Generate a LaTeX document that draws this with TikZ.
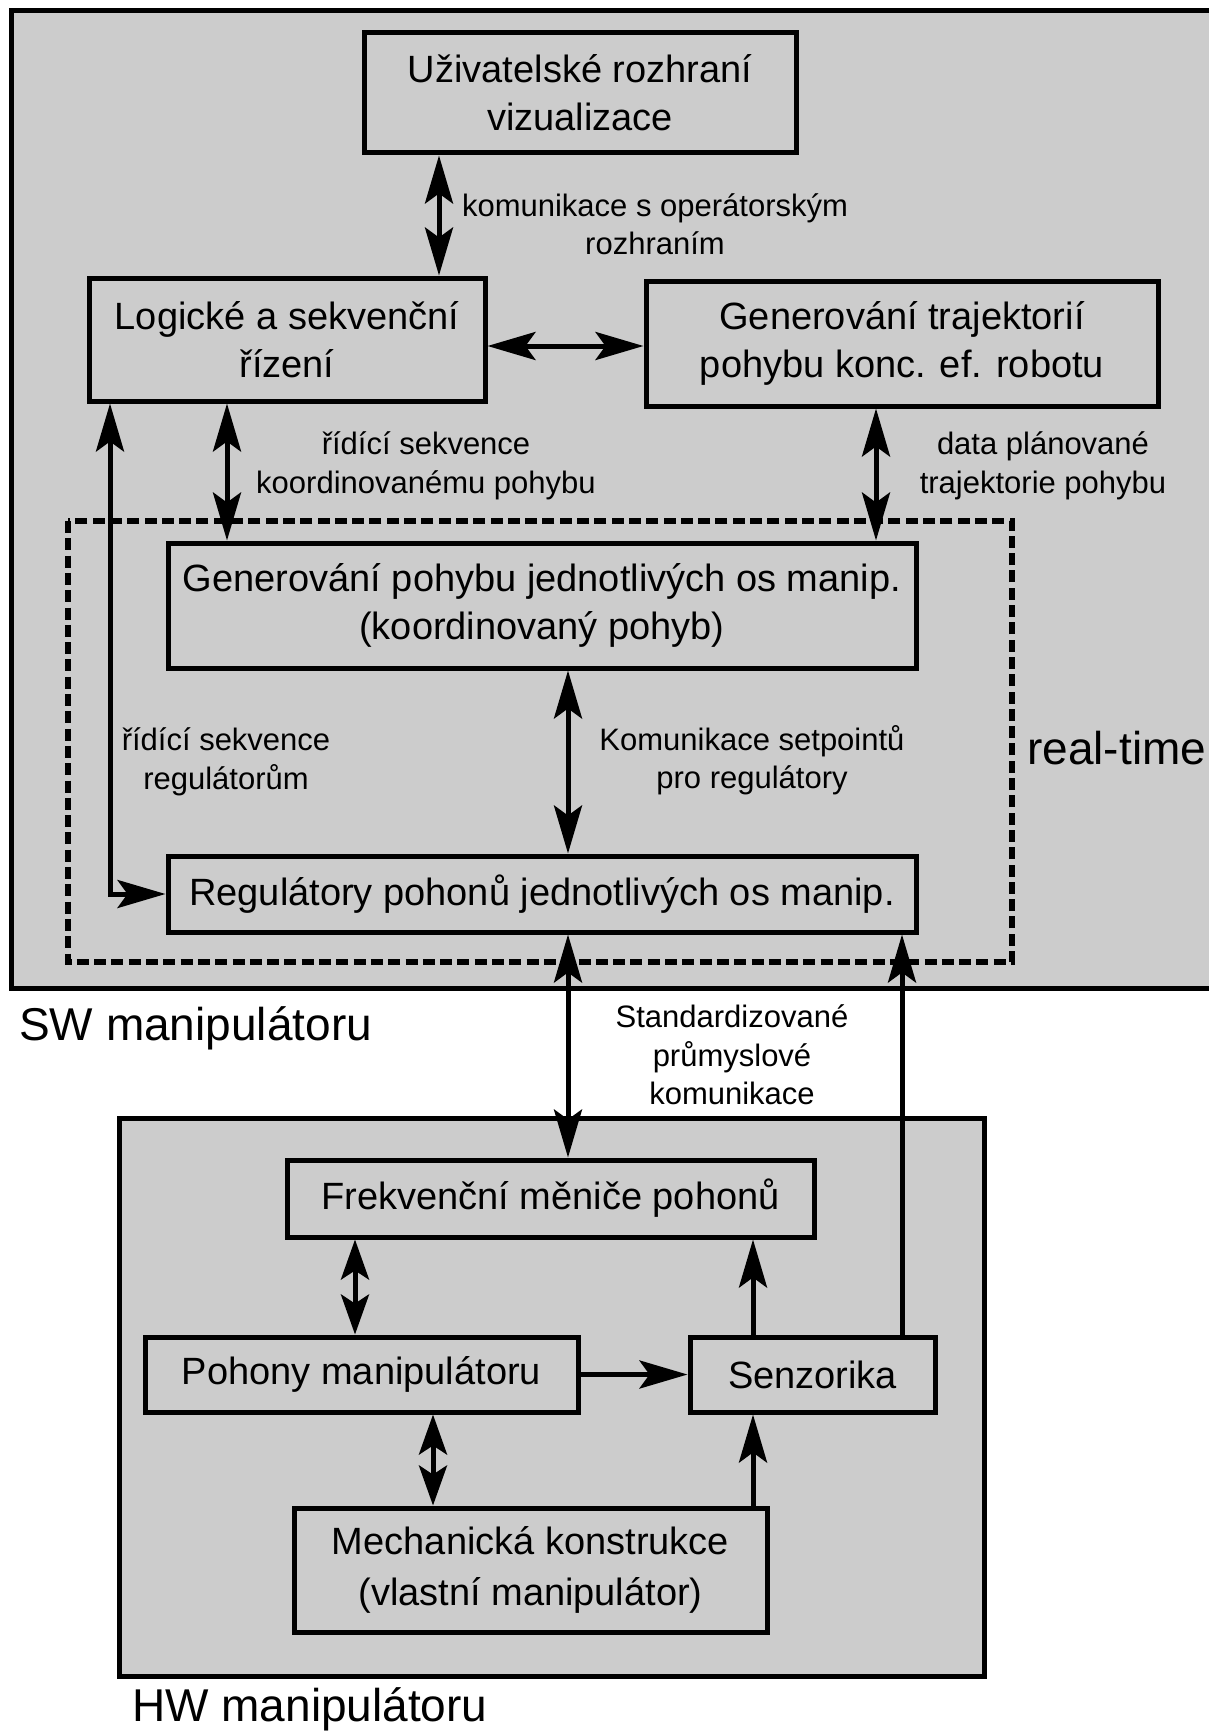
\documentclass[tikz,border=0pt]{standalone}
\usepackage{fontspec}
\setmainfont{Liberation Sans}
\usetikzlibrary{arrows.meta,calc}
\definecolor{panel}{RGB}{204,204,204}
\begin{document}
\begin{tikzpicture}[x=1pt,y=-1pt,
  >={Stealth[length=48pt,width=28pt,inset=10pt]},
  container/.style={draw, line width=5pt, fill=panel},
  rtbox/.style={draw, line width=6pt, dash pattern=on 12pt off 5.3pt},
  blk/.style={draw, line width=5pt, fill=panel, inner sep=0pt, align=center,
    font=\fontsize{38}{48}\selectfont},
  lbl/.style={align=center, inner sep=0pt, font=\fontsize{31}{38.5}\selectfont},
  big/.style={inner sep=0pt, anchor=west, font=\fontsize{46}{55}\selectfont},
  conn/.style={line width=5pt},
  shortconn/.style={line width=5pt, >={Stealth[length=40pt,width=28pt,inset=9pt]}}
]
\useasboundingbox (0,0) rectangle (1208,1731);

% containers
\draw[container] (11,11) rectangle (1222,988);
\draw[rtbox] (68,521) rectangle (1012,962);
\draw[container] (119,1118) rectangle (984,1676);

% SW blocks
\node[blk, minimum width=432pt, minimum height=120pt] (Uz) at (580,93) {Uživatelské rozhraní\\vizualizace};
\node[blk, minimum width=396pt, minimum height=123pt] (Log) at (287,339.5) {Logické a sekvenční\\řízení};
\node[blk, minimum width=512pt, minimum height=125pt] (GenT) at (902,343.5) {Generování trajektorií\\pohybu konc. ef. robotu};
\node[blk, minimum width=748pt, minimum height=125pt] (GenP) at (542,605.5) {Generování pohybu jednotlivých os manip.\\(koordinovaný pohyb)};
\node[blk, minimum width=748pt, minimum height=76pt] (Reg) at (542,894) {Regulátory pohonů jednotlivých os manip.};

% HW blocks
\node[blk, minimum width=527pt, minimum height=77pt] (Frek) at (550.5,1198.5) {Frekvenční měniče pohonů};
\node[blk, minimum width=433pt, minimum height=75pt] (Poh) at (361.5,1374.5) {Pohony manipulátoru};
\node[blk, minimum width=245pt, minimum height=75pt] (Sen) at (812.5,1374.5) {Senzorika};
\node[blk, minimum width=473pt, minimum height=124pt, font=\fontsize{38}{51}\selectfont] (Mech) at (530.5,1570) {Mechanická konstrukce\\(vlastní manipulátor)};

% column / row helpers
\coordinate (xa) at (439,0);
\coordinate (xb) at (227,0);
\coordinate (xc) at (110,0);
\coordinate (xd) at (876,0);
\coordinate (xe) at (568,0);
\coordinate (xf) at (902,0);
\coordinate (xg) at (355,0);
\coordinate (xh) at (433,0);
\coordinate (xi) at (753,0);
\coordinate (ya) at (0,346);
\coordinate (mg) at ($(Frek.south -| xg)!0.5!(Poh.north -| xg)$);
\coordinate (mh) at ($(Poh.south -| xh)!0.5!(Mech.north -| xh)$);

% connectors
\draw[conn,<->] (Uz.south -| xa) -- (Log.north -| xa);
\draw[conn,<->] (Log.east |- ya) -- (GenT.west |- ya);
\draw[conn,<->] (Log.south -| xb) -- (GenP.north -| xb);
\draw[conn,<->] (Log.south -| xc) |- (Reg.west);
\draw[conn,<->] (GenT.south -| xd) -- (GenP.north -| xd);
\draw[conn,<->] (GenP.south -| xe) -- (Reg.north -| xe);
\draw[conn,<->] (Reg.south -| xe) -- (Frek.north -| xe);
\draw[conn,->] (Sen.north -| xf) -- (Reg.south -| xf);
\draw[shortconn,->] (mg) -- (Frek.south -| xg);
\draw[shortconn,->] (mg) -- (Poh.north -| xg);
\draw[shortconn,->] (mh) -- (Poh.south -| xh);
\draw[shortconn,->] (mh) -- (Mech.north -| xh);
\draw[conn,->] (Sen.north -| xi) -- (Frek.south -| xi);
\draw[conn,->] (Mech.north -| xi) -- (Sen.south -| xi);
\draw[conn,->] (Poh.east) -- (Sen.west);

% labels
\node[lbl] (l1) at (655,224) {komunikace s operátorským\\rozhraním};
\node[lbl] (l2) at (426,466) {řídící sekvence\\koordinovanému pohybu};
\node[lbl] (l3) at (1043,466) {data plánované\\trajektorie pohybu};
\node[lbl] (l4) at (226,762) {řídící sekvence\\regulátorům};
\node[lbl] (l5) at (752,760) {Komunikace setpointů\\pro regulátory};
\node[lbl] (l6) at (732,1055) {Standardizované\\průmyslové\\komunikace};
\node[big] (rt) at (1027,748) {real-time};
\node[big] (sw) at (19,1028) {SW manipulátoru};
\node[big] (hw) at (132,1709) {HW manipulátoru};
\end{tikzpicture}
\end{document}
